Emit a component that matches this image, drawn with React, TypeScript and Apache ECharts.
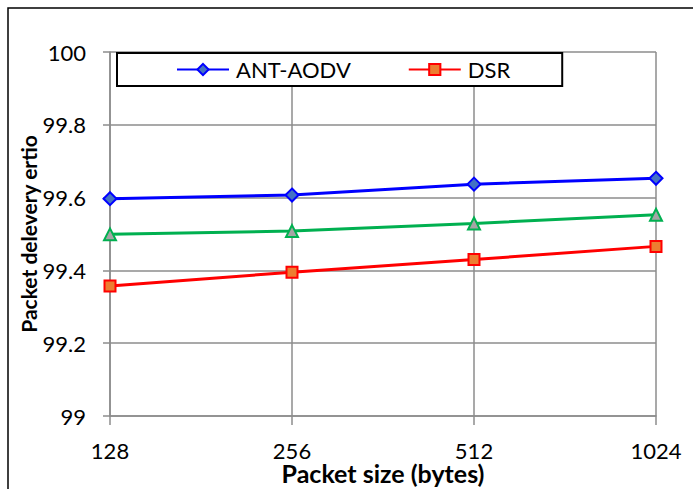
import React, { useEffect, useRef } from "react";
import * as echarts from "echarts";

const categories = ["128", "256", "512", "1024"];
const antAodv = [99.597, 99.607, 99.637, 99.653];
const middleSeries = [99.499, 99.508, 99.529, 99.553];
const dsr = [99.357, 99.395, 99.43, 99.466];
const yTicks = { min: 99, max: 100, interval: 0.2 };

const FONT = "Lato";
const GRID = "#8c8c8c";

export default function App() {
  const ref = useRef<HTMLDivElement>(null);
  useEffect(() => {
    document.body.style.margin = "0";
    document.body.style.overflow = "hidden";
    const chart = echarts.init(ref.current!, null, { renderer: "svg", width: 693, height: 489 });
    chart.setOption({
      animation: false,
      backgroundColor: "#ffffff",
      textStyle: { fontFamily: FONT },
      graphic: [
        {
          type: "rect",
          shape: { x: 8, y: 8, width: 720, height: 520 },
          style: { fill: "none", stroke: "#000", lineWidth: 1.5 },
          silent: true,
        },
      ],
      grid: { left: 110, width: 546, top: 52, height: 364, outerBoundsMode: "none", containLabel: false },
      legend: {
        data: ["ANT-AODV", "DSR"],
        left: 117,
        top: 53,
        padding: [5, 52, 5, 59],
        itemGap: 57,
        itemWidth: 52,
        itemHeight: 14,
        borderColor: "#000",
        borderWidth: 2,
        backgroundColor: "#fff",
        textStyle: { fontFamily: FONT, fontSize: 22, color: "#000", lineHeight: 23, padding: [0, 0, 0, 2] },
      },
      xAxis: {
        type: "category",
        data: categories,
        boundaryGap: false,
        name: "Packet size (bytes)",
        nameLocation: "middle",
        nameGap: 46,
        nameMoveOverlap: false,
        nameTextStyle: { fontFamily: FONT, fontSize: 25, lineHeight: 22, fontWeight: "bold", color: "#000" },
        axisLine: { show: true, lineStyle: { color: GRID, width: 1.5 } },
        axisTick: { show: true, length: 9, lineStyle: { color: GRID, width: 1.5 } },
        axisLabel: { fontFamily: FONT, fontSize: 22, lineHeight: 19, color: "#000", margin: 25 },
        splitLine: { show: true, lineStyle: { color: GRID, width: 1.5 } },
      },
      yAxis: {
        type: "value",
        min: yTicks.min,
        max: yTicks.max,
        interval: yTicks.interval,
        name: "Packet delevery ertio",
        nameLocation: "middle",
        nameRotate: 90,
        nameGap: 71,
        nameMoveOverlap: false,
        nameTextStyle: { fontFamily: FONT, fontSize: 21, fontWeight: "bold", color: "#000" },
        axisLine: { show: true, lineStyle: { color: GRID, width: 1.5 } },
        axisTick: { show: true, length: 7, lineStyle: { color: GRID, width: 1.5 } },
        axisLabel: {
          fontFamily: FONT,
          fontSize: 22,
          color: "#000",
          margin: 24,
          formatter: (v: number) => String(parseFloat(v.toFixed(1))),
        },
        splitLine: { show: true, lineStyle: { color: GRID, width: 1.5 } },
      },
      series: [
        {
          name: "ANT-AODV",
          type: "line",
          data: antAodv,
          symbol: "diamond",
          symbolSize: 13,
          lineStyle: { color: "#0000ff", width: 3 },
          itemStyle: { color: "#4472c4", borderColor: "#0000ff", borderWidth: 2 },
        },
        {
          name: "Series3",
          type: "line",
          data: middleSeries,
          symbol: "triangle",
          symbolSize: 12,
          lineStyle: { color: "#00b050", width: 3 },
          itemStyle: { color: "#a5a5a5", borderColor: "#00b050", borderWidth: 2 },
        },
        {
          name: "DSR",
          type: "line",
          data: dsr,
          symbol: "rect",
          symbolSize: 11,
          lineStyle: { color: "#ff0000", width: 3 },
          itemStyle: { color: "#ed7d31", borderColor: "#ff0000", borderWidth: 2 },
        },
      ],
    });
    return () => chart.dispose();
  }, []);
  return <div ref={ref} style={{ width: 693, height: 489 }} />;
}
